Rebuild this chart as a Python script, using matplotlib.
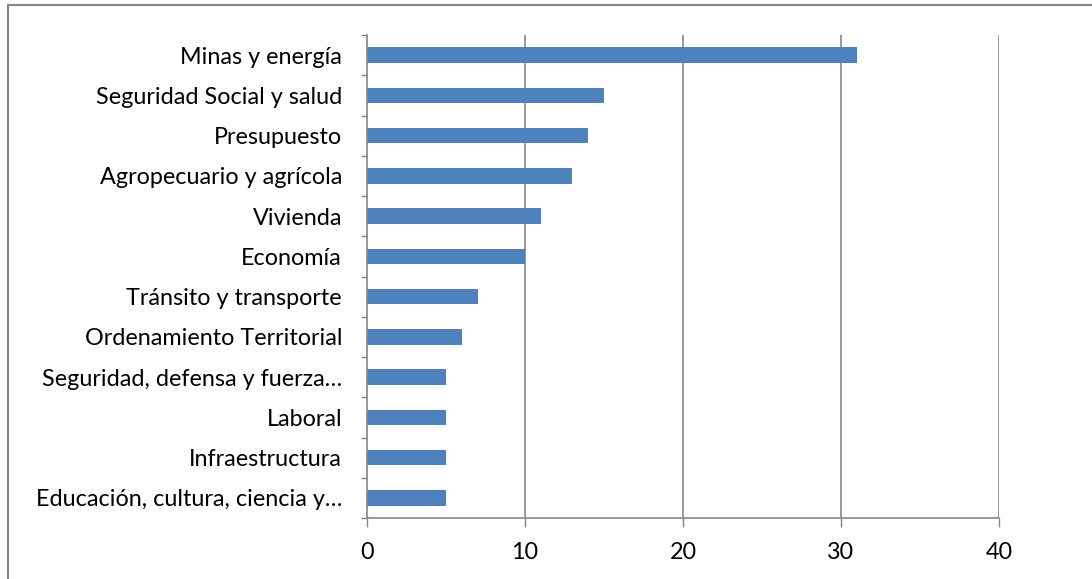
import matplotlib
matplotlib.use("Agg")
import matplotlib.pyplot as plt
from matplotlib.patches import Rectangle
import numpy as np

categories = ["Minas y energía", "Seguridad Social y salud", "Presupuesto",
              "Agropecuario y agrícola", "Vivienda", "Economía",
              "Tránsito y transporte", "Ordenamiento Territorial",
              "Seguridad, defensa y fuerza…", "Laboral", "Infraestructura",
              "Educación, cultura, ciencia y…"]
values = [31, 15, 14, 13, 11, 10, 7, 6, 5, 5, 5, 5]
xticks = [0, 10, 20, 30, 40]

plt.rcParams['font.family'] = ['Lato', 'DejaVu Sans']
W, H = 1092, 579
fig = plt.figure(figsize=(W/100, H/100), dpi=100)
ax = fig.add_axes([367/W, 1-518/H, (999-367)/W, (518-35)/H])

n = len(categories)
pos = np.arange(n)[::-1]
ax.barh(pos, values, height=0.39, color="#4F81BD", zorder=3)
ax.set_xlim(0, 40)
ax.set_ylim(-0.5, n-0.5)
ax.set_xticks(xticks)
ax.set_xticklabels([str(t) for t in xticks], fontsize=16.8)
ax.set_yticks(pos)
ax.set_yticklabels(categories, fontsize=16.8)
ax.set_yticks(np.arange(n+1)-0.5, minor=True)
ax.tick_params(axis='y', which='major', length=0, pad=18)
ax.tick_params(axis='y', which='minor', length=4.5, width=1, color="#868686", direction='out')
ax.tick_params(axis='x', which='major', length=6.5, width=1, color="#868686", pad=11)
gc = "#868686"
for x in xticks[1:]:
    ax.axvline(x, color=gc, lw=1.2, zorder=1)
for s in ['top', 'right']:
    ax.spines[s].set_visible(False)
for s in ['left', 'bottom']:
    ax.spines[s].set_color(gc)
    ax.spines[s].set_linewidth(1.2)
    ax.spines[s].set_zorder(4)

fig.patches.append(Rectangle((8/W, -0.1), 1.2, 1.1 - 5/H, transform=fig.transFigure,
                             fill=False, edgecolor="#868686", lw=1.5))
fig.savefig("out.png", dpi=100)
